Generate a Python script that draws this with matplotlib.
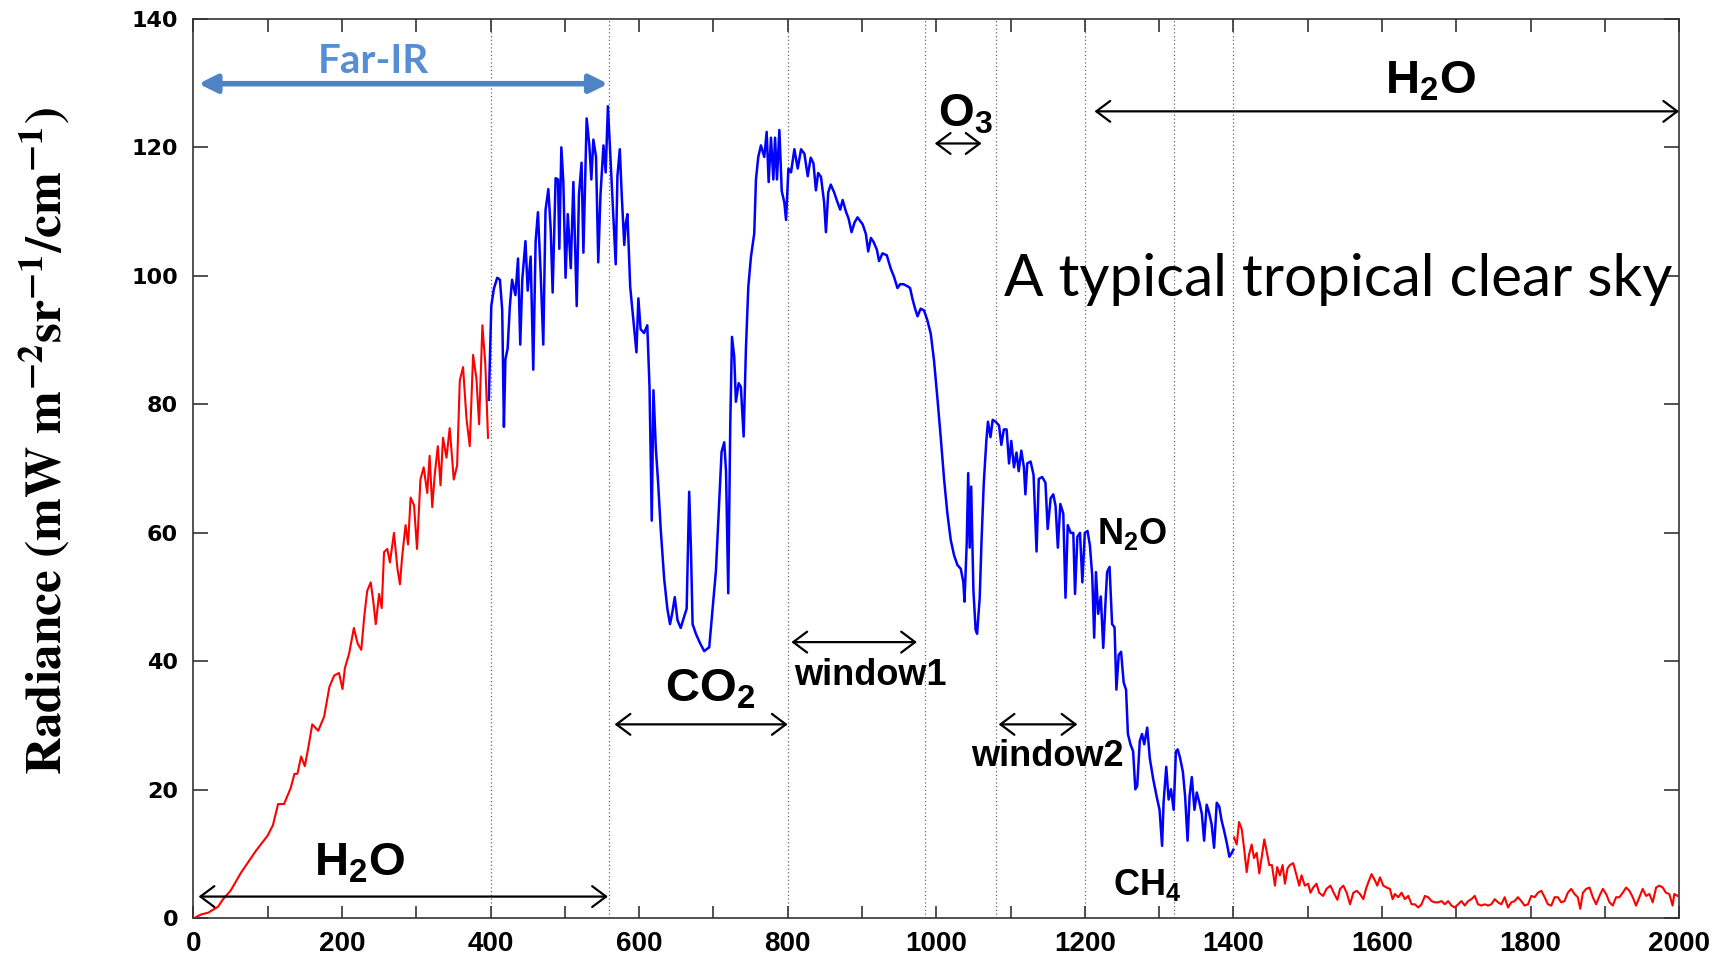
"""
Tropical clear-sky radiance spectrum with band annotations
"""
import numpy as np
import matplotlib
matplotlib.use('Agg')
import matplotlib.pyplot as plt
import matplotlib.patheffects as pe
from matplotlib.ticker import MultipleLocator

# ---- spectrum: (wavenumber cm-1, radiance) ----
far_ir_h2o = [
    (0, 0), (10, 0.6), (20, 0.9), (33, 1.8), (40, 3.0), (50, 4.3), (64, 7.1),
    (84, 10.5), (100, 12.9), (107, 14.5), (114, 17.8), (122, 17.8), (131, 20.3),
    (136, 22.5), (140, 22.5), (145, 25.2), (150, 23.7), (155, 26.8), (160, 30.2),
    (168, 29.2), (176, 31.4), (183, 36.0), (189.5, 37.8), (196, 38.2), (200.7, 35.7),
    (204, 39.0), (209.6, 41.2), (216, 45.2), (221, 42.8), (226, 41.8), (230, 47.0),
    (234, 51.0), (238.7, 52.3), (242, 49.5), (245.5, 45.8), (250, 50.5), (253.5, 48.3),
    (256.6, 57.0), (261, 57.5), (264.6, 55.4), (270, 60.0), (274.6, 54.5), (278, 52.0),
    (281, 56.3), (285.6, 61.2), (289, 58.2), (292.4, 65.5), (297, 64.3), (301, 57.5),
    (305.6, 68.3), (310, 70.2), (314.8, 66.2), (318, 72.0), (321.5, 64.0), (325, 69.2),
    (329, 73.5), (332.7, 67.4), (336, 74.8), (340.7, 71.7), (345, 76.3), (350.5, 68.3),
    (355, 70.5), (358.6, 83.7), (363, 85.8), (367.6, 77.8), (372, 73.5), (376.5, 87.7),
    (381, 84.0), (384.6, 76.9), (389, 92.3), (393, 86.2), (396.6, 74.8),
]

mid_ir = [
    (397.7, 80.7), (401, 95.3), (404.5, 98.0), (409, 99.7), (412.6, 99.4), (415.7, 94.7),
    (418, 76.5), (420, 87.0), (423, 88.7), (426, 95.3), (429, 99.4), (433.5, 97.0),
    (437, 102.7), (440, 89.3), (442.7, 99.4), (447, 105.4), (450, 97.7), (454, 103.0),
    (457.5, 85.4), (460.7, 105.4), (463.8, 109.9), (467.4, 100.6), (471, 89.3),
    (474, 110.2), (477.8, 113.5), (481, 107.2), (483.6, 97.4), (487.6, 115.2),
    (490.8, 115.0), (492.6, 104.2), (495.3, 120.0), (498, 114.6), (501, 99.7),
    (504, 109.6), (508, 101.2), (511.5, 114.6), (516, 95.3), (519, 112.6), (522.5, 117.6),
    (525, 103.6), (529.4, 124.5), (533, 120.3), (535.7, 115.0), (538.4, 121.2),
    (542, 118.5), (545, 102.1), (548, 112.6), (552, 120.3), (555, 116.1), (558, 126.4),
    (561.8, 117.6), (565.4, 109.6), (568.5, 101.8), (570.8, 115.5), (574, 119.7),
    (576.6, 112.6), (580, 104.8), (582, 108.1), (584.3, 109.6), (588, 98.3), (591, 94.7),
    (593, 92.3), (596.4, 88.1), (599, 96.5), (602, 91.7), (606.7, 91.1), (611, 92.3),
    (614, 82.7), (617, 61.9), (619.3, 82.2), (622.5, 73.2), (625.6, 67.8), (629, 60.7),
    (633.7, 52.9), (638, 48.2), (641.6, 45.8), (644.7, 47.6), (648, 50.0), (651.7, 46.4),
    (656, 45.2), (660.7, 47.0), (664, 48.2), (667.4, 66.4), (669.7, 57.7), (672, 45.8),
    (676.4, 44.3), (682.2, 42.8), (687.6, 41.6), (694.4, 42.2), (698.9, 48.2),
    (703.4, 54.1), (707.9, 64.9), (711, 72.6), (714.6, 74.1), (717, 69.6), (720, 50.6),
    (722.7, 76.8), (725, 90.5), (728, 87.5), (730.3, 80.4), (734, 83.3), (737, 82.7),
    (740.7, 75.0), (743.8, 88.7), (747, 98.3), (750.6, 103.0), (755, 106.6),
    (757.3, 115.0), (760.4, 118.5), (764, 120.3), (768.5, 118.5), (771.7, 122.4),
    (774.4, 114.6), (777.5, 121.5), (780.7, 115.0), (783, 121.5), (785.6, 115.0),
    (788.8, 122.7), (792, 113.2), (795.5, 111.4), (797.8, 108.7), (801, 116.7),
    (804.5, 116.1), (809, 119.7), (813.5, 116.7), (818, 119.7), (822.5, 119.0),
    (827, 115.5), (831, 118.4), (834.7, 117.5), (838, 113.3), (841, 116.0),
    (844.8, 115.4), (849, 111.5), (851.5, 106.8), (854.6, 113.0), (858, 114.2),
    (862.5, 113.0), (866, 111.8), (870.7, 110.3), (874, 111.8), (878.4, 110.0),
    (882, 108.9), (886, 106.8), (890, 108.3), (894, 109.1), (901, 108.0), (905.3, 106.5),
    (908.4, 103.8), (912, 105.9), (915.5, 105.3), (920, 104.1), (923, 102.3),
    (927.6, 103.5), (933.4, 103.2), (938.8, 101.1), (943, 99.9), (947.8, 98.1),
    (951.4, 98.7), (955.8, 98.7), (961, 98.4), (964.8, 98.1), (968, 96.4), (971.5, 94.9),
    (974.8, 93.7), (979, 94.9), (983.6, 94.6), (988, 93.1), (992.6, 91.0), (997, 86.8),
    (1001.6, 80.9), (1006, 74.9), (1010.5, 68.4), (1015, 63.0), (1019.5, 58.9),
    (1024, 56.5), (1028.5, 55.0), (1033, 54.4), (1036.5, 52.3), (1038, 49.3),
    (1041, 58.3), (1043, 69.3), (1045, 57.7), (1047, 67.2), (1050, 51.1), (1053, 44.9),
    (1055, 44.3), (1058.5, 49.9), (1061, 58.9), (1064, 67.8), (1067.4, 74.3),
    (1069.6, 77.3), (1073, 74.9), (1076, 77.6), (1080, 77.3), (1084.5, 76.7),
    (1087.6, 73.7), (1091, 76.1), (1094.7, 76.1), (1098, 70.8), (1101, 74.3),
    (1104.6, 70.2), (1108, 72.5), (1111, 69.6), (1114.5, 72.8), (1118, 70.2), (1120, 66.0),
    (1122.5, 70.8), (1127, 71.1), (1131, 69.0), (1135, 57.1), (1138, 68.4),
    (1142.6, 68.7), (1147, 67.8), (1150, 60.6), (1154, 65.4), (1157.5, 66.0),
    (1160.6, 64.2), (1163.7, 57.7), (1167, 64.5), (1171, 63.0), (1174, 49.9),
    (1177, 61.2), (1181, 60.0), (1184.5, 60.0), (1186.8, 50.5), (1190, 59.4),
    (1193.5, 60.0), (1196.7, 52.3), (1200, 60.0), (1203.6, 60.3), (1206.8, 58.1),
    (1210, 53.3), (1212.6, 43.7), (1215, 53.9), (1218, 47.4), (1221.5, 50.1),
    (1224.8, 42.1), (1228, 49.6), (1230, 53.9), (1233.3, 54.7), (1236.7, 45.8),
    (1240, 45.3), (1242.5, 35.6), (1245.6, 41.0), (1248.8, 41.5), (1252.3, 36.7),
    (1255.5, 35.6), (1258, 28.7), (1261.4, 27.1), (1265, 26.0), (1268, 20.1),
    (1270.5, 20.6), (1274, 27.6), (1277, 28.7), (1280, 27.1), (1284, 29.7),
    (1287.5, 24.9), (1292, 21.7), (1297, 18.8), (1300.6, 16.9), (1304, 11.3), (1306, 18.0),
    (1309.6, 23.6), (1312.8, 18.5), (1316, 20.1), (1319.6, 16.9), (1322.6, 26.0),
    (1325, 26.3), (1328.4, 24.9), (1332, 22.8), (1335, 19.0), (1338.3, 12.1), (1341, 19.0),
    (1344, 22.0), (1347.6, 16.9), (1350.7, 19.6), (1354.3, 18.0), (1357.5, 16.3),
    (1360.6, 12.1), (1364, 17.7), (1367, 16.6), (1370.6, 14.7), (1374, 11.0),
    (1377.6, 18.0), (1381, 17.4), (1384, 15.3), (1387.4, 13.7), (1391, 11.8),
    (1394.6, 9.6), (1397.8, 10.2), (1400, 10.7),
]

h2o_band = [
    (1400.9, 12.6), (1404.5, 11.5), (1407.6, 15.0), (1411.2, 13.9), (1414.3, 11.0),
    (1417.9, 7.2), (1421, 9.9), (1424.6, 11.5), (1427.7, 9.4), (1431.3, 10.2),
    (1434.9, 7.0), (1438, 9.4), (1441.6, 12.3), (1444.7, 10.5), (1448.3, 8.3),
    (1451.9, 8.3), (1455.9, 5.1), (1459, 8.0), (1462.6, 6.7), (1466.2, 8.3),
    (1469.4, 5.4), (1472.9, 7.8), (1476, 8.3), (1480.5, 8.6), (1485, 6.7), (1488.6, 5.1),
    (1491.7, 6.7), (1496.2, 5.1), (1500.6, 5.4), (1503.8, 4.0), (1507.4, 4.8),
    (1511.9, 5.4), (1515.4, 4.0), (1520.8, 3.5), (1525.3, 4.6), (1530.6, 5.1),
    (1535, 4.0), (1540, 2.9), (1543.6, 4.6), (1548, 5.1), (1552.5, 4.0), (1557, 2.2),
    (1561.5, 4.0), (1566, 4.3), (1570.4, 3.8), (1574.9, 3.0), (1578.5, 4.6),
    (1581.6, 5.6), (1586, 6.9), (1590.6, 5.9), (1593.7, 5.1), (1597.3, 6.4),
    (1601.8, 5.1), (1606.3, 4.8), (1610.7, 4.6), (1614.3, 3.0), (1617.5, 3.8),
    (1622, 3.3), (1626.4, 4.0), (1630.9, 3.0), (1635.4, 3.5), (1639.9, 2.2),
    (1644.3, 2.2), (1648.8, 1.7), (1653.3, 2.2), (1657.8, 3.5), (1662.2, 3.3),
    (1666.7, 2.7), (1671.2, 2.5), (1675.7, 2.5), (1680.2, 2.7), (1684.6, 2.2),
    (1689.1, 2.7), (1693.6, 2.0), (1698, 1.7), (1702.5, 2.2), (1707, 2.7), (1711.5, 2.0),
    (1716, 2.7), (1720.4, 3.0), (1724.9, 3.5), (1729.3, 2.2), (1733.9, 2.0),
    (1738.3, 2.2), (1742.8, 2.0), (1747.3, 2.2), (1751.8, 3.0), (1756.2, 2.5),
    (1760.7, 2.2), (1765.2, 3.3), (1769.7, 1.7), (1774, 2.5), (1778.6, 2.7), (1783, 3.3),
    (1787.6, 2.7), (1792, 2.0), (1796.6, 2.2), (1801, 3.5), (1805.5, 3.3), (1810, 4.0),
    (1814.5, 4.3), (1819, 3.3), (1823.4, 2.2), (1828, 2.0), (1832.4, 3.3),
    (1836.8, 3.3), (1841.3, 2.5), (1845.7, 2.7), (1850.2, 4.0), (1854.7, 4.6),
    (1859.2, 3.8), (1863.6, 3.3), (1866.9, 1.5), (1870.5, 4.0), (1875, 4.6),
    (1879.4, 4.8), (1883.9, 3.3), (1888.3, 2.2), (1892.8, 3.5), (1897.3, 4.6),
    (1901.8, 3.8), (1906.3, 2.5), (1910.7, 2.0), (1915.2, 3.3), (1919.7, 3.3),
    (1924.2, 4.0), (1928.6, 4.8), (1933.1, 4.3), (1937.6, 3.3), (1942, 2.0),
    (1946.6, 3.3), (1951, 4.6), (1955.5, 3.5), (1960, 3.8), (1964.5, 2.5), (1969, 4.8),
    (1973.4, 5.1), (1978, 4.8), (1982.3, 4.0), (1986.8, 3.8), (1991.3, 2.0),
    (1993.5, 3.8), (1998, 3.5),
]

# band boundaries (dotted lines)
band_edges = [400, 560, 800, 985, 1080, 1200, 1320, 1400]

# band arrows: (start, end, height)
black_arrows = [
    (7, 558, 3.4),       # far-IR H2O
    (567, 800, 30.2),    # CO2
    (805, 974, 43.0),    # window1
    (998, 1061, 120.6),  # O3
    (1084, 1190, 30.2),  # window2
    (1213, 2000, 125.6), # H2O
]
far_ir_arrow = (7, 558, 129.9)

# labels: (text, x, baseline y, size)
species_labels = [
    (r'$\mathbf{H_2O}$', 223, 6.7, 34),
    (r'$\mathbf{CO_2}$', 696, 33.7, 34),
    (r'$\mathbf{O_3}$', 1039, 123.2, 33),
    (r'$\mathbf{H_2O}$', 1665, 128.3, 34),
    (r'$\mathbf{N_2O}$', 1263, 58.3, 26),
    (r'$\mathbf{CH_4}$', 1284, 3.6, 26),
]
window_labels = [
    ('window1', 911, 36.3),
    ('window2', 1150, 23.7),
]

plt.rcParams['mathtext.fontset'] = 'custom'
plt.rcParams['mathtext.bf'] = 'Liberation Sans:bold'
plt.rcParams['mathtext.rm'] = 'Liberation Sans:bold'

fig = plt.figure(figsize=(17.33, 9.55), dpi=100)
ax = fig.add_axes([0.1116, 0.0383, 0.8573, 0.9420])

for x in band_edges:
    ax.axvline(x, color='#666666', ls=(0, (1, 2)), lw=0.9, zorder=1)

wn, rad = np.array(far_ir_h2o).T
ax.plot(wn, rad, color='red', lw=1.5, zorder=3)
wn, rad = np.array(mid_ir).T
ax.plot(wn, rad, color='blue', lw=1.8, zorder=3)
wn, rad = np.array(h2o_band).T
ax.plot(wn, rad, color='red', lw=1.5, zorder=3)

for x1, x2, y in black_arrows:
    ax.annotate('', xy=(x2, y), xytext=(x1, y),
                arrowprops=dict(arrowstyle='<->,head_length=1.0,head_width=0.75',
                                lw=1.6, color='black', shrinkA=0, shrinkB=0,
                                mutation_scale=10), zorder=4)

x1, x2, y = far_ir_arrow
far_ann = ax.annotate('', xy=(x2, y), xytext=(x1, y),
                      arrowprops=dict(arrowstyle='<|-|>,head_length=0.9,head_width=0.45',
                                      lw=4, color='#4F84C4', shrinkA=0, shrinkB=0,
                                      mutation_scale=12), zorder=4)
far_ann.arrow_patch.set_path_effects([
    pe.SimplePatchShadow(offset=(1.5, -2), shadow_rgbFace='#999999', alpha=0.4),
    pe.Normal()])
ax.text(242, 131.6, 'Far-IR', color='#558ED5', fontsize=29, fontweight='bold',
        family='Lato', ha='center', va='baseline', zorder=5)

for txt, x, y, size in species_labels:
    ax.text(x, y, txt, fontsize=size, ha='center', va='baseline', zorder=5)
for txt, x, y in window_labels:
    ax.text(x, y, txt, fontsize=26, fontweight='bold', family='Liberation Sans',
            ha='center', va='baseline', zorder=5)

ax.text(1541, 96.8, 'A typical tropical clear sky', fontsize=42, family='Lato',
        ha='center', va='baseline', zorder=5)

ax.set_xlim(0, 2000)
ax.set_ylim(0, 140)
ax.xaxis.set_major_locator(MultipleLocator(200))
ax.xaxis.set_minor_locator(MultipleLocator(100))
ax.yaxis.set_major_locator(MultipleLocator(20))
ax.tick_params(which='both', direction='in', top=True, right=True,
               width=1.2, color='#333333')
ax.tick_params(axis='x', which='both', length=9, pad=9)
ax.tick_params(axis='y', length=11, pad=11)
for lab in ax.get_xticklabels():
    lab.set_fontfamily('Liberation Sans')
    lab.set_fontweight('bold')
    lab.set_fontsize(20)
for lab in ax.get_yticklabels():
    lab.set_fontfamily('DejaVu Sans')
    lab.set_fontweight('bold')
    lab.set_fontsize(16)
for sp in ax.spines.values():
    sp.set_color('#333333')
    sp.set_linewidth(1.2)

fig.text(45 / 1733, 1 - 441 / 955,
         r'$\mathbf{Radiance\ (mW\ m^{-2}sr^{-1}/cm^{-1})}$',
         math_fontfamily='stix', fontsize=37, rotation=90,
         ha='center', va='center')

fig.savefig('out.png', dpi=100, facecolor='white')
